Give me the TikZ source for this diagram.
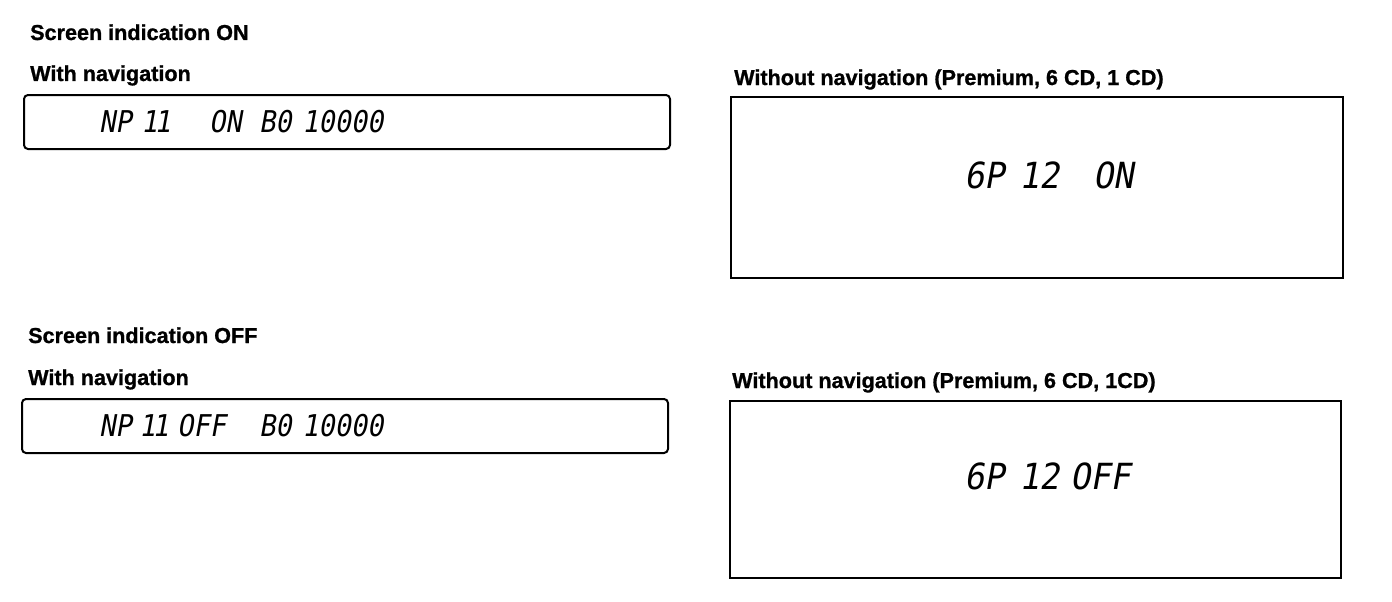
\documentclass[tikz,border=0pt]{standalone}
\usepackage{fontspec}
\setmainfont{Liberation Sans}
\newfontfamily\headfont[FakeBold=1.0]{Liberation Sans Bold}
\newfontfamily\lcdsmall[FakeStretch=0.9,FakeSlant=0.18]{DejaVu Sans Mono}
\newfontfamily\lcdbig[FakeStretch=0.93,FakeSlant=0.18]{DejaVu Sans Mono}
\begin{document}
\begin{tikzpicture}[x=1pt,y=-1pt,
  heading/.style={anchor=base west,inner sep=0pt,font=\fontsize{21.6}{25}\headfont},
  lcdS/.style={anchor=west,inner sep=0pt,font=\fontsize{30}{34}\lcdsmall},
  lcdB/.style={anchor=west,inner sep=0pt,font=\fontsize{36}{40}\lcdbig},
  navbox/.style={draw=black,line width=2pt,rounded corners=4pt},
  plainbox/.style={draw=black,line width=2pt}]
\useasboundingbox[fill=white] (0,0) rectangle (1392,602);
% headings
\node[heading] (h1) at (30,40) {Screen indication ON};
\node[heading] (h2) at (30,81) {With navigation};
\node[heading] (h3) at (734,85) {Without navigation (Premium, 6 CD, 1 CD)};
\node[heading] (h4) at (28,343) {Screen indication OFF};
\node[heading] (h5) at (28,385) {With navigation};
\node[heading] (h6) at (732,388) {Without navigation (Premium, 6 CD, 1CD)};
% boxes
\draw[navbox] (24,95) rectangle (670,149);
\draw[plainbox] (731,97) rectangle (1343,278);
\draw[navbox] (22,399) rectangle (668,453);
\draw[plainbox] (730,401) rectangle (1341,578);
% display texts: top left
\node[lcdS] (a1) at (99,122) {NP};
\node[lcdS] (a2) at (141,122) {1\kern-3pt1};
\node[lcdS] (a3) at (209,122) {ON};
\node[lcdS] (a4) at (259,122) {B0};
\node[lcdS] (a5) at (302,122) {10000};
% bottom left
\node[lcdS] (b1) at (99,426) {NP};
\node[lcdS] (b2) at (139,426) {1\kern-3pt1};
\node[lcdS] (b3) at (177,426) {OFF};
\node[lcdS] (b4) at (259,426) {B0};
\node[lcdS] (b5) at (302,426) {10000};
% top right
\node[lcdB] (c1) at (964,175) {6P};
\node[lcdB] (c2) at (1019,175) {12};
\node[lcdB] (c3) at (1093,175) {ON};
% bottom right
\node[lcdB] (d1) at (964,476) {6P};
\node[lcdB] (d2) at (1019,476) {12};
\node[lcdB] (d3) at (1070,476) {OFF};
\end{tikzpicture}
\end{document}
